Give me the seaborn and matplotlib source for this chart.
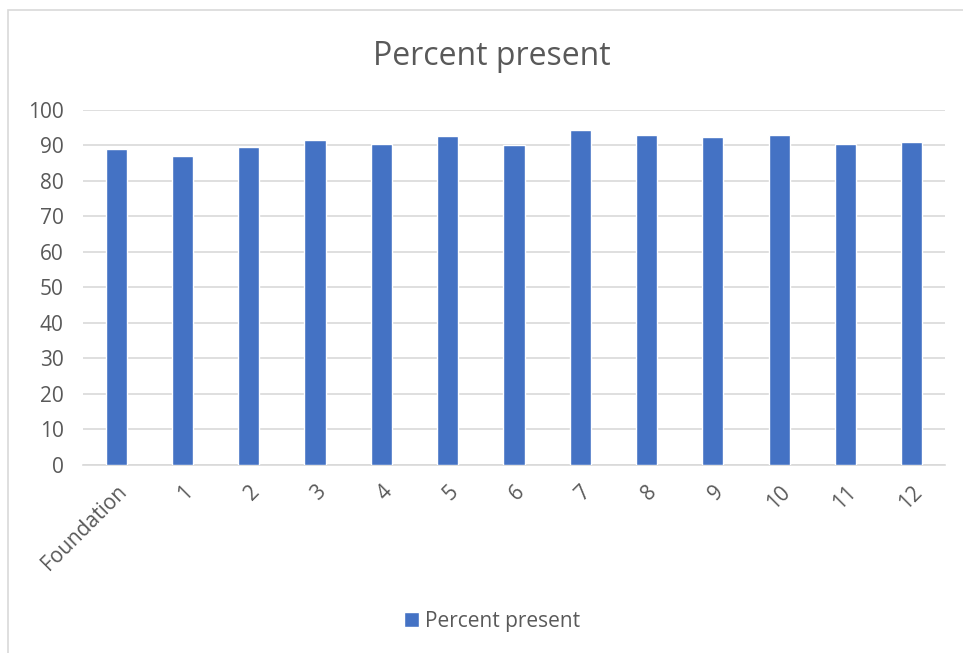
import matplotlib
matplotlib.use("Agg")
import matplotlib.pyplot as plt
import seaborn as sns
import pandas as pd

categories = ["Foundation", "1", "2", "3", "4", "5", "6", "7", "8", "9", "10", "11", "12"]
percent_present = [89.0, 87.1, 89.7, 91.6, 90.5, 92.7, 90.2, 94.4, 93.0, 92.5, 92.9, 90.5, 91.0]
y_ticks = [0, 10, 20, 30, 40, 50, 60, 70, 80, 90, 100]

series_name = "Percent present"
bar_color = "#4472C4"
text_color = "#595959"
grid_color = "#D9D9D9"

sns.set_theme(style="white")
plt.rcParams["font.family"] = ["Open Sans", "DejaVu Sans"]

df = pd.DataFrame({"Year level": categories, series_name: percent_present})

fig = plt.figure(figsize=(9.63, 6.53), dpi=100)
ax = fig.add_axes([0.0862, 0.288, 0.8950, 0.5436])

sns.barplot(data=df, x="Year level", y=series_name, color=bar_color,
            width=0.32, saturation=1, ax=ax, label=series_name, zorder=3)

ax.set_xlim(-0.5, len(categories) - 0.5)
ax.set_ylim(0, 100)
ax.set_yticks(y_ticks)
ax.yaxis.grid(True, color=grid_color, linewidth=1.2, zorder=0)
ax.xaxis.grid(False)
for side in ["top", "right", "left"]:
    ax.spines[side].set_visible(False)
ax.spines["bottom"].set_color(grid_color)
ax.spines["bottom"].set_linewidth(1.2)
ax.tick_params(axis="both", length=0, labelsize=15, colors=text_color)
ax.tick_params(axis="y", pad=14)
ax.tick_params(axis="x", pad=12)
ax.set_xlabel("")
ax.set_ylabel("")
plt.setp(ax.get_xticklabels(), rotation=45, ha="right", va="top", rotation_mode="anchor")

fig.text(0.511, 0.914, "Percent present", ha="center", va="center",
         fontsize=23, color=text_color)

leg = ax.legend(loc="center", bbox_to_anchor=(0.511, 0.049), bbox_transform=fig.transFigure,
                frameon=False, fontsize=15, handlelength=0.75, handleheight=0.75,
                handletextpad=0.3)
for t in leg.get_texts():
    t.set_color(text_color)

# chart border
fig.add_artist(plt.Rectangle((8 / 963, -0.1), 1.2, 1 - 10.5 / 653 + 0.1,
                             transform=fig.transFigure, fill=False,
                             edgecolor="#D9D9D9", linewidth=1.2))

fig.savefig("out.png", dpi=100)
